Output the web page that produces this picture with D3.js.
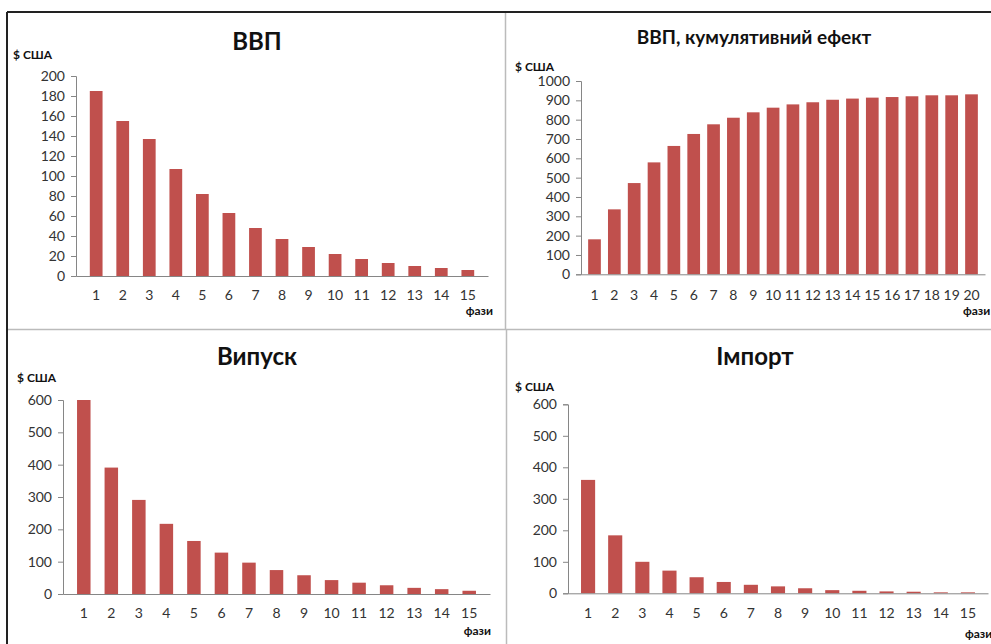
<!DOCTYPE html>
<html>
<head>
<meta charset="utf-8">
<script src="https://cdn.jsdelivr.net/npm/d3@7"></script>
<style>
  body { margin: 0; background: #fff; }
  svg { display: block; font-family: Lato, 'Open Sans', sans-serif; }
</style>
</head>
<body>
<div id="chart"></div>
<script>
// values
const phases15 = d3.range(1, 16);
const phases20 = d3.range(1, 21);
const gdp = [185, 155, 137, 107, 82, 63, 48, 37, 29, 22, 17, 13, 10, 8, 6];
const gdpCumulative = [181, 336, 472, 579, 664, 726, 776, 810, 838, 862, 879, 890, 903, 909, 914, 917, 921, 926, 926, 931];
const output = [600, 391, 291, 217, 164, 128, 97, 74, 58, 43, 35, 27, 19, 15, 10];
const imports = [360, 184, 100, 72, 51, 36, 27, 22, 16, 10, 8, 6, 5, 3, 3];

const titles = ['ВВП', 'ВВП, кумулятивний ефект', 'Випуск', 'Імпорт'];
const yUnit = '$ США';
const xUnit = 'фази';

const barColor = '#C0504D';
const axisColor = '#868686';

const svg = d3.select('#chart').append('svg')
  .attr('width', 991)
  .attr('height', 644);

// frame lines
svg.append('line').attr('x1', 7).attr('x2', 991).attr('y1', 12).attr('y2', 12)
  .attr('stroke', '#222').attr('stroke-width', 2);
svg.append('line').attr('x1', 7).attr('x2', 7).attr('y1', 12).attr('y2', 644)
  .attr('stroke', '#222').attr('stroke-width', 2);
svg.append('line').attr('x1', 505.5).attr('x2', 505.5).attr('y1', 13).attr('y2', 329)
  .attr('stroke', '#bbb').attr('stroke-width', 1.5);
svg.append('line').attr('x1', 8).attr('x2', 991).attr('y1', 329.5).attr('y2', 329.5)
  .attr('stroke', '#bbb').attr('stroke-width', 1.5);
svg.append('line').attr('x1', 506.5).attr('x2', 506.5).attr('y1', 330).attr('y2', 644)
  .attr('stroke', '#bbb').attr('stroke-width', 1.5);

const panels = [
  { title: titles[0], cats: phases15, vals: gdp, max: 200, step: 20,
    x0: 76, x1: 488, y0: 276, y1: 76, pad: 0.52,
    titleX: 257, titleY: 50, titleSize: 24,
    unitX: 13, unitY: 59, labelY: 300, phaseX: 493, phaseY: 315, phaseAnchor: 'end' },
  { title: titles[1], cats: phases20, vals: gdpCumulative, max: 1000, step: 100,
    x0: 581, x1: 985, y0: 274.3, y1: 81, pad: 0.36,
    titleX: 754, titleY: 44, titleSize: 19,
    unitX: 515, unitY: 71, labelY: 300, phaseX: 963, phaseY: 315, phaseAnchor: 'start' },
  { title: titles[2], cats: phases15, vals: output, max: 600, step: 100,
    x0: 63, x1: 490, y0: 594, y1: 400, pad: 0.51,
    titleX: 257, titleY: 365, titleSize: 24,
    unitX: 17, unitY: 382, labelY: 618, phaseX: 491, phaseY: 635, phaseAnchor: 'end' },
  { title: titles[3], cats: phases15, vals: imports, max: 600, step: 100,
    x0: 568, x1: 988, y0: 593.3, y1: 404.3, pad: 0.48,
    titleX: 755, titleY: 365, titleSize: 24,
    unitX: 515, unitY: 391, labelY: 618, phaseX: 965, phaseY: 638, phaseAnchor: 'start' }
];

panels.forEach((p) => {
  const g = svg.append('g');

  const x = d3.scaleBand().domain(p.cats).range([p.x0, p.x1]).padding(p.pad);
  const y = d3.scaleLinear().domain([0, p.max]).range([p.y0, p.y1]);

  // title and unit labels
  g.append('text')
    .attr('x', p.titleX).attr('y', p.titleY)
    .attr('text-anchor', 'middle')
    .style('font-size', p.titleSize + 'px')
    .style('font-weight', 'bold')
    .style('fill', '#111')
    .text(p.title);

  g.append('text')
    .attr('x', p.unitX).attr('y', p.unitY)
    .style('font-size', '12px')
    .style('font-weight', 'bold')
    .style('fill', '#111')
    .text(yUnit);

  g.append('text')
    .attr('x', p.phaseX).attr('y', p.phaseY)
    .attr('text-anchor', p.phaseAnchor)
    .style('font-size', '12px')
    .style('font-weight', 'bold')
    .style('fill', '#111')
    .text(xUnit);

  // Y axis
  const yAxis = g.append('g')
    .attr('transform', `translate(${p.x0},0)`)
    .call(d3.axisLeft(y)
      .tickValues(d3.range(0, p.max + 1, p.step))
      .tickFormat(d3.format('d'))
      .tickSize(5).tickPadding(6));
  yAxis.select('.domain').attr('stroke', axisColor);
  yAxis.selectAll('.tick line').attr('stroke', axisColor);
  yAxis.selectAll('text').style('font-size', '14px').style('fill', '#333')
    .style('font-family', 'Lato, sans-serif');

  // bars
  g.selectAll('rect')
    .data(p.vals)
    .join('rect')
    .attr('x', (d, i) => x(p.cats[i]))
    .attr('width', x.bandwidth())
    .attr('y', (d) => y(d))
    .attr('height', (d) => y(0) - y(d))
    .attr('fill', barColor);

  // X axis
  const xAxis = g.append('g')
    .attr('transform', `translate(0,${p.y0})`)
    .call(d3.axisBottom(x).tickSize(0).tickSizeOuter(0).tickPadding(0));
  xAxis.select('.domain').attr('stroke', axisColor);
  xAxis.selectAll('text')
    .attr('y', p.labelY - p.y0)
    .attr('dy', 0)
    .style('font-size', '14px')
    .style('fill', '#333')
    .style('font-family', 'Lato, sans-serif');
});
</script>
</body>
</html>
